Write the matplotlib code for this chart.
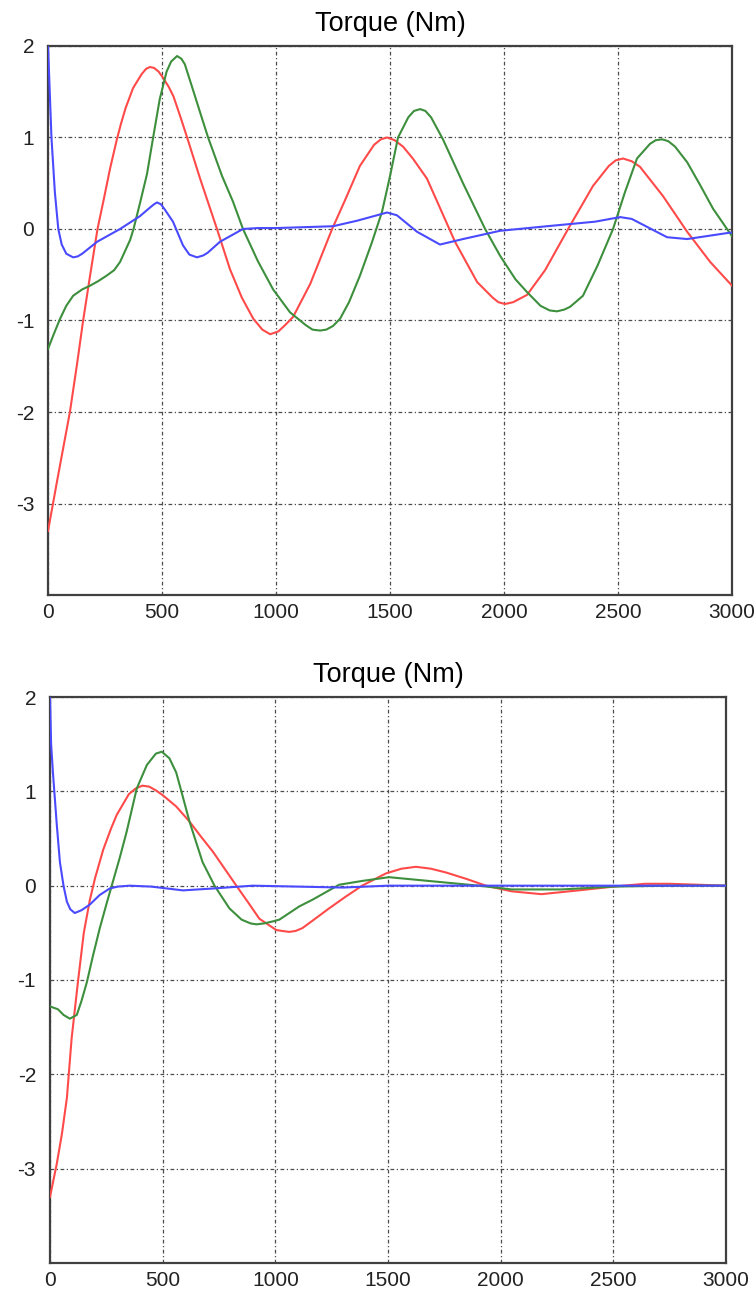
import matplotlib.pyplot as plt

plt.rcParams["font.family"] = ["Liberation Sans", "DejaVu Sans"]
plt.rcParams["axes.unicode_minus"] = False

# ── top panel ───────────────────────────────────────────────────────────
top_blue_x = [0, 15, 30, 45, 60, 80, 110, 130, 150, 215, 316, 403, 450, 465,
              478, 495, 510, 548, 592, 620, 653, 680, 700, 754, 855, 920, 1000,
              1250, 1355, 1487, 1530, 1618, 1719, 1820, 1982, 2188, 2400, 2509,
              2560, 2715, 2803, 2991, 3000]
top_blue_y = [2.0, 1.0, 0.4, 0.0, -0.17, -0.27, -0.31, -0.3, -0.27, -0.14, 0.0,
              0.14, 0.24, 0.27, 0.29, 0.27, 0.22, 0.08, -0.18, -0.28, -0.31,
              -0.29, -0.26, -0.14, 0.0, 0.01, 0.01, 0.03, 0.09, 0.18, 0.15,
              -0.03, -0.17, -0.11, -0.02, 0.03, 0.08, 0.13, 0.11, -0.09, -0.11,
              -0.04, -0.04]

top_red_x = [0, 40, 96, 127, 154, 185, 217, 245, 272, 302, 320, 340, 373, 410,
             430, 447, 465, 485, 505, 530, 550, 580, 610, 667, 741, 798, 850,
             900, 940, 974, 1010, 1040, 1075, 1150, 1246, 1300, 1368, 1430,
             1460, 1487, 1520, 1557, 1600, 1662, 1785, 1882, 1950, 1975, 2004,
             2040, 2101, 2180, 2281, 2390, 2460, 2490, 2522, 2560, 2596, 2697,
             2803, 2904, 3000]
top_red_y = [-3.3, -2.75, -2.0, -1.48, -1.0, -0.5, 0.0, 0.33, 0.66, 0.98, 1.15,
             1.32, 1.54, 1.69, 1.75, 1.77, 1.76, 1.72, 1.65, 1.55, 1.45, 1.23,
             1.0, 0.55, 0.0, -0.44, -0.75, -0.98, -1.1, -1.15, -1.12, -1.05,
             -0.96, -0.6, 0.0, 0.3, 0.69, 0.92, 0.98, 1.0, 0.97, 0.9, 0.77,
             0.55, -0.14, -0.58, -0.75, -0.8, -0.82, -0.8, -0.72, -0.45, 0.0,
             0.47, 0.69, 0.75, 0.77, 0.74, 0.68, 0.36, -0.03, -0.36, -0.62]

top_green_x = [0, 25, 53, 80, 110, 150, 184, 220, 257, 290, 316, 360, 375, 405,
               434, 461, 490, 520, 540, 566, 585, 600, 632, 670, 702, 763, 811,
               855, 920, 987, 1061, 1130, 1160, 1193, 1220, 1250, 1281, 1320,
               1368, 1420, 1465, 1500, 1535, 1580, 1605, 1632, 1655, 1680, 1732,
               1820, 1917, 1982, 2050, 2101, 2160, 2200, 2232, 2265, 2290, 2346,
               2410, 2478, 2530, 2583, 2640, 2665, 2693, 2720, 2750, 2803, 2860,
               2917, 3000]
top_green_y = [-1.31, -1.15, -0.98, -0.84, -0.73, -0.66, -0.62, -0.57, -0.51,
               -0.45, -0.36, -0.12, 0.0, 0.3, 0.6, 1.0, 1.42, 1.72, 1.83, 1.89,
               1.86, 1.8, 1.55, 1.25, 1.0, 0.58, 0.3, 0.0, -0.35, -0.66, -0.91,
               -1.05, -1.1, -1.11, -1.1, -1.06, -0.98, -0.8, -0.51, -0.15, 0.19,
               0.58, 1.0, 1.22, 1.29, 1.31, 1.29, 1.22, 0.98, 0.5, 0.0, -0.29,
               -0.55, -0.69, -0.84, -0.89, -0.9, -0.88, -0.85, -0.73, -0.4, 0.0,
               0.4, 0.77, 0.93, 0.97, 0.98, 0.96, 0.9, 0.73, 0.48, 0.22, -0.08]

# ── bottom panel ────────────────────────────────────────────────────────
bot_blue_x = [0, 5, 13, 30, 44, 60, 75, 90, 110, 140, 177, 220, 265, 300, 354,
              450, 590, 723, 900, 1100, 1300, 1500, 2000, 2500, 3000]
bot_blue_y = [2.0, 1.5, 1.2, 0.65, 0.25, 0.0, -0.17, -0.25, -0.29, -0.26, -0.2,
              -0.1, -0.03, -0.01, 0.0, -0.01, -0.05, -0.03, 0.0, -0.01, -0.02,
              0.0, 0.0, 0.0, 0.0]

bot_red_x = [0, 30, 53, 75, 96, 124, 150, 177, 200, 236, 270, 296, 350, 380,
             410, 440, 470, 500, 560, 619, 670, 723, 775, 827, 880, 929, 1004,
             1030, 1062, 1090, 1120, 1160, 1239, 1310, 1385, 1491, 1560, 1624,
             1690, 1757, 1850, 1934, 2049, 2181, 2345, 2500, 2640, 2750, 3000]
bot_red_y = [-3.3, -2.95, -2.63, -2.25, -1.62, -1.02, -0.5, -0.15, 0.08, 0.38,
             0.6, 0.75, 0.97, 1.03, 1.06, 1.05, 1.01, 0.96, 0.84, 0.68, 0.52,
             0.36, 0.18, 0.0, -0.18, -0.35, -0.47, -0.48, -0.49, -0.48, -0.45,
             -0.38, -0.24, -0.12, 0.0, 0.13, 0.18, 0.2, 0.18, 0.14, 0.07, 0.0,
             -0.06, -0.09, -0.05, -0.01, 0.02, 0.02, 0.0]

bot_green_x = [0, 35, 60, 88, 119, 140, 164, 190, 221, 250, 274, 310, 340, 385,
               430, 470, 496, 530, 560, 583, 619, 650, 677, 730, 796, 850, 890,
               916, 950, 987, 1018, 1106, 1164, 1283, 1385, 1504, 1681, 1903,
               2049, 2270, 2500, 2750, 3000]
bot_green_y = [-1.28, -1.31, -1.37, -1.41, -1.37, -1.22, -1.02, -0.75, -0.45,
               -0.2, 0.0, 0.3, 0.57, 1.03, 1.28, 1.4, 1.42, 1.35, 1.2, 1.0, 0.68,
               0.45, 0.25, 0.0, -0.24, -0.36, -0.4, -0.41, -0.4, -0.38, -0.36,
               -0.22, -0.15, 0.01, 0.05, 0.09, 0.05, 0.0, -0.04, -0.04, -0.01,
               0.0, 0.0]

x_ticks = [0, 500, 1000, 1500, 2000, 2500, 3000]
y_ticks = [-3, -2, -1, 0, 1, 2]
title = "Torque (Nm)"

BLUE, RED, GREEN = "#4a4aff", "#ff4a4a", "#3d8f3d"

fig = plt.figure(figsize=(7.54, 12.91), dpi=100)
ax_top = fig.add_axes([0.0637, 0.5391, 0.9072, 0.4253])
ax_bot = fig.add_axes([0.0663, 0.0217, 0.8966, 0.4384])

panels = [
    (ax_top, (top_blue_x, top_blue_y), (top_red_x, top_red_y), (top_green_x, top_green_y)),
    (ax_bot, (bot_blue_x, bot_blue_y), (bot_red_x, bot_red_y), (bot_green_x, bot_green_y)),
]

for ax, blue, red, green in panels:
    ax.plot(*red, color=RED, lw=1.5, zorder=3)
    ax.plot(*green, color=GREEN, lw=1.5, zorder=3)
    ax.plot(*blue, color=BLUE, lw=1.5, zorder=4)
    ax.set_xlim(0, 3000)
    ax.set_ylim(-4, 2)
    ax.set_xticks(x_ticks)
    ax.set_yticks(y_ticks)
    ax.tick_params(length=0, labelsize=15, colors="#222222")
    ax.tick_params(axis="x", pad=6)
    ax.tick_params(axis="y", pad=10)
    ax.grid(True, color="0.3", linestyle=(0, (3, 2, 1, 2)), linewidth=0.9)
    for sp in ax.spines.values():
        sp.set_color("0.25")
        sp.set_linewidth(1.6)
    ax.set_title(title, fontsize=19.5, pad=11)

plt.savefig("out.png", dpi=100)
